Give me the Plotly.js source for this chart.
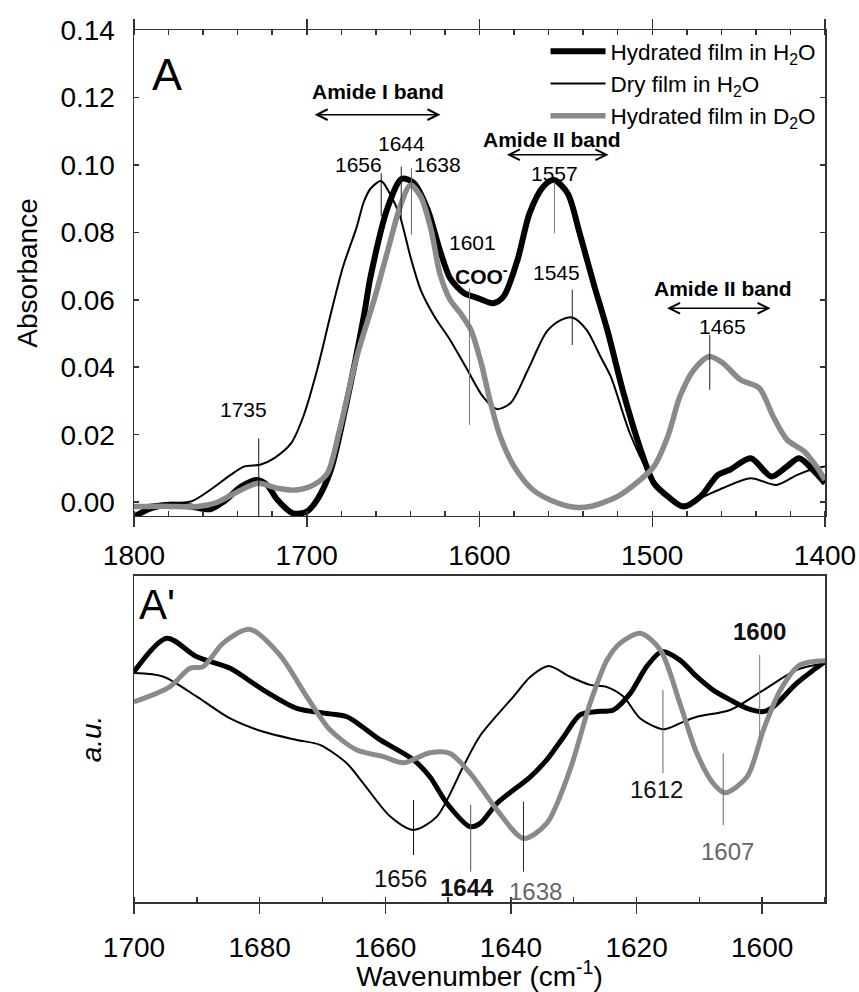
<!DOCTYPE html>
<html>
<head>
<meta charset="utf-8">
<script src="https://cdn.plot.ly/plotly-3.0.1.min.js"></script>
<style>html,body{margin:0;padding:0;background:#fff}#chart{width:859px;height:992px}</style>
</head>
<body>
<div id="chart"></div>
<script>
// ---------- Panel A: absorbance spectra ----------
const seriesNames = ["Hydrated film in H<sub>2</sub>O", "Dry film in H<sub>2</sub>O", "Hydrated film in D<sub>2</sub>O"];

const hydH2O_x = [1800,1790,1779,1767,1756,1748,1738,1729,1723,1717,1708,1700,1694,1686,1677,1667,1663,1653,1645,1638,1630,1623,1617,1609,1601,1592,1586,1578,1571,1563,1557,1549,1542,1534,1526,1517,1507,1499,1491,1482,1472,1462,1455,1443,1431,1422,1415,1407,1400];
const hydH2O_y = [-0.0043,-0.0018,-0.0008,-0.0013,-0.0021,0.0002,0.0046,0.0066,0.0051,0.0007,-0.0033,-0.0028,0.0007,0.0096,0.0293,0.055,0.067,0.0876,0.0959,0.0946,0.0867,0.0748,0.0664,0.062,0.0605,0.059,0.061,0.0718,0.0857,0.0936,0.0955,0.0916,0.0797,0.0649,0.051,0.033,0.016,0.0056,0.0017,-0.0013,0.0017,0.0081,0.0096,0.013,0.0076,0.0106,0.013,0.0096,0.0056];

const dryH2O_x = [1800,1783,1767,1756,1744,1736,1727,1719,1709,1702,1694,1686,1679,1671,1667,1663,1657,1652,1646,1640,1634,1626,1617,1607,1598,1590,1582,1572,1561,1553,1546,1538,1530,1524,1513,1503,1493,1482,1470,1459,1443,1428,1416,1405,1400];
const dryH2O_y = [-0.0013,-0.0003,0.0002,0.0036,0.0081,0.0106,0.0111,0.013,0.0175,0.0254,0.0392,0.056,0.0698,0.0817,0.089,0.093,0.0952,0.0916,0.0847,0.0728,0.0629,0.055,0.0481,0.0392,0.0313,0.0276,0.0294,0.0392,0.0506,0.054,0.0547,0.0511,0.0432,0.0372,0.0205,0.0096,0.0027,-0.0008,0.0017,0.0042,0.0071,0.0051,0.0081,0.0101,0.0106];

const hydD2O_x = [1800,1783,1763,1752,1740,1728,1717,1706,1696,1688,1681,1671,1661,1653,1646,1640,1634,1628,1623,1617,1611,1605,1599,1594,1588,1580,1569,1557,1545,1536,1520,1507,1499,1491,1484,1476,1467,1459,1449,1438,1430,1422,1412,1405,1400];
const hydD2O_y = [-0.0013,-0.0012,-0.0013,-0.0001,0.0031,0.0056,0.0041,0.0036,0.0051,0.0086,0.0214,0.0432,0.06,0.0748,0.0876,0.094,0.0906,0.0807,0.0679,0.06,0.056,0.0511,0.0412,0.0303,0.0195,0.0106,0.0036,0.0002,-0.0015,-0.0013,0.0017,0.0066,0.0106,0.0195,0.0313,0.0392,0.0432,0.0412,0.0363,0.0338,0.0254,0.0185,0.015,0.0106,0.0066];

// ---------- Panel A': second-derivative (a.u.) ----------
const dHydH2O_x = [1700,1694.8,1690,1684.7,1679.4,1674.1,1668.8,1666.1,1660.8,1655.5,1652.9,1650.2,1646.5,1644.9,1642.2,1636.9,1634.3,1631.6,1629,1626.3,1623.7,1621,1618.4,1616,1613.1,1610.4,1607.8,1605.1,1602.4,1599.8,1598.2,1594.5,1591.8,1590];
const dHydH2O_y = [70.6,80.9,75.2,71.7,65,59.4,57.7,56.8,49.7,43.6,38.4,30.3,23.1,24.1,30.3,38.4,43.6,50.7,57.4,58.4,58.9,64,72.2,76.8,74.2,69.1,65,62,59.4,58.4,59.9,67.1,71.2,73.7];

const dDryH2O_x = [1700,1695.3,1690,1684.7,1679.4,1674.1,1670.4,1666.1,1663.5,1659.2,1655.5,1651.8,1647.6,1644.9,1639.6,1636.9,1634,1630.6,1627.4,1624.7,1622.1,1619.4,1615.7,1613.1,1610.4,1605.1,1599.8,1594.5,1590];
const dDryH2O_y = [70.2,69.1,63,56.3,52.2,49.7,48.2,42.5,36.4,26.2,22.1,26.2,41.5,51,63,69.1,72.4,69.1,66.6,65.9,63,56.3,53,54.8,56.8,58.9,65,71.2,73.2];

const dHydD2O_x = [1700,1694.3,1691.1,1689,1685.8,1681.5,1676.8,1672.5,1668.8,1664.5,1660.3,1657.1,1652.9,1649.7,1646.5,1644.9,1642.2,1638,1634.3,1630.6,1627.4,1624.7,1622.6,1619.4,1616.2,1613.1,1610.4,1607.8,1605.9,1602.4,1599.8,1597.1,1594,1590];
const dHydD2O_y = [61.4,66,71.7,72.2,79.4,83.6,75.8,63,52.8,46.6,44.6,42.7,45.8,45.6,39.5,35.4,28.2,19.5,24.1,40.5,60.9,74.2,79.4,82.4,77.3,60.9,45.6,36.4,33.5,38.4,52.8,65,72.7,74];

// Peak markers and labels
const peakA_x = [1656.9, 1645.3, 1639.4, 1605.8, 1556.6, 1546.3, 1466.7];
const peakA_y0 = [0.0975, 0.0995, 0.099, 0.0634, 0.095, 0.063, 0.0496];
const peakA_y1 = [0.0847, 0.0837, 0.0793, 0.0229, 0.0797, 0.0466, 0.0333];
const peakA_col = ["#111", "#222", "#666", "#777", "#777", "#222", "#222"];
const labelsA = [
  {t:"1656", x:1670, y:0.1000}, {t:"1644", x:1645.3, y:0.1062}, {t:"1638", x:1624.3, y:0.1000},
  {t:"1601", x:1604.3, y:0.0770}, {t:"<b>COO<sup>-</sup></b>", x:1598.8, y:0.0674},
  {t:"1557", x:1556.6, y:0.0975}, {t:"1545", x:1555.6, y:0.0680},
  {t:"1465", x:1459.2, y:0.0520}, {t:"1735", x:1736.4, y:0.0274},
  {t:"<b>Amide I band</b>", x:1658.5, y:0.1217}, {t:"<b>Amide II band</b>", x:1558, y:0.1074},
  {t:"<b>Amide II band</b>", x:1458.8, y:0.0634}
];
const bandArrows = [ {x0:1696.3, x1:1622.6, y:0.1149}, {x0:1585, x1:1525.3, y:0.103}, {x0:1492.3, x1:1431.5, y:0.0575} ];

const peakB_x = [1655.5, 1646.4, 1638, 1615.8, 1606.2, 1600.4];
const peakB_y0 = [31.3, 29.8, 30.8, 65, 45.6, 75.8];
const peakB_y1 = [14.4, 9.3, 9.3, 39.5, 23.6, 50.2];
const peakB_col = ["#111", "#555", "#222", "#666", "#666", "#777"];
const labelsB = [
  {t:"1656", x:1657.6, y:7.2, c:"#111"}, {t:"<b>1644</b>", x:1647, y:4.3, c:"#111"},
  {t:"1638", x:1636.1, y:3.2, c:"#666"}, {t:"1612", x:1616.8, y:34.4, c:"#111"},
  {t:"1607", x:1605.6, y:15.4, c:"#666"}, {t:"<b>1600</b>", x:1600.4, y:82.9, c:"#111"}
];

const FONT = "Liberation Sans, Arial, Helvetica, sans-serif";
const BLACK = "#000", GRAY = "#8a8a8a";

const traces = [
  {x:hydH2O_x, y:hydH2O_y, name:seriesNames[0], mode:"lines", line:{color:BLACK, width:6, shape:"spline", smoothing:0.8}, xaxis:"x", yaxis:"y"},
  {x:dryH2O_x, y:dryH2O_y, name:seriesNames[1], mode:"lines", line:{color:BLACK, width:2, shape:"spline", smoothing:0.8}, xaxis:"x", yaxis:"y"},
  {x:hydD2O_x, y:hydD2O_y, name:seriesNames[2], mode:"lines", line:{color:GRAY, width:5.5, shape:"spline", smoothing:0.8}, xaxis:"x", yaxis:"y"},
  {x:dHydH2O_x, y:dHydH2O_y, name:seriesNames[0], showlegend:false, mode:"lines", line:{color:BLACK, width:5, shape:"spline", smoothing:0.8}, xaxis:"x2", yaxis:"y2"},
  {x:dDryH2O_x, y:dDryH2O_y, name:seriesNames[1], showlegend:false, mode:"lines", line:{color:BLACK, width:2, shape:"spline", smoothing:0.8}, xaxis:"x2", yaxis:"y2"},
  {x:dHydD2O_x, y:dHydD2O_y, name:seriesNames[2], showlegend:false, mode:"lines", line:{color:GRAY, width:5, shape:"spline", smoothing:0.8}, xaxis:"x2", yaxis:"y2"}
];

const shapes = [];
peakA_x.forEach((x,i)=>shapes.push({type:"line", xref:"x", yref:"y", x0:x, x1:x, y0:peakA_y0[i], y1:peakA_y1[i], line:{color:peakA_col[i], width:1}}));
// 1735 marker extends below the axis
shapes.push({type:"line", xref:"x", yref:"paper", x0:1727.8, x1:1727.8, y0:0.5318, y1:0.4414, line:{color:"#111", width:1}});
peakB_x.forEach((x,i)=>shapes.push({type:"line", xref:"x2", yref:"y2", x0:x, x1:x, y0:peakB_y0[i], y1:peakB_y1[i], line:{color:peakB_col[i], width:1}}));

const annotations = [];
labelsA.forEach(l=>annotations.push({xref:"x", yref:"y", x:l.x, y:l.y, text:l.t, showarrow:false, xanchor:"center", yanchor:"middle", font:{family:FONT, size:21, color:"#000"}}));
bandArrows.forEach(a=>annotations.push({xref:"x", yref:"y", axref:"x", ayref:"y", x:a.x1, y:a.y, ax:a.x0, ay:a.y, text:"", showarrow:true, arrowside:"end+start", arrowhead:5, startarrowhead:5, arrowsize:1.4, startarrowsize:1.4, arrowwidth:1.5, arrowcolor:"#000", standoff:0, startstandoff:0}));
labelsB.forEach(l=>annotations.push({xref:"x2", yref:"y2", x:l.x, y:l.y, text:l.t, showarrow:false, xanchor:"center", yanchor:"middle", font:{family:FONT, size:24, color:l.c}}));
annotations.push({xref:"paper", yref:"paper", x:0.0478, y:0.9495, xanchor:"center", yanchor:"middle", text:"A", showarrow:false, font:{family:FONT, size:45, color:"#000"}});
annotations.push({xref:"paper", yref:"paper", x:0.0333, y:0.3406, xanchor:"center", yanchor:"middle", text:"A'", showarrow:false, font:{family:FONT, size:42, color:"#000"}});

const axLine = {showline:true, linecolor:"#333", linewidth:1.5, showgrid:false, zeroline:false, tickcolor:"#333", tickwidth:1.5, tickfont:{family:FONT, size:28, color:"#000"}};

const layout = {
  width:859, height:992,
  margin:{l:134, r:34, t:30, b:90},
  paper_bgcolor:"#fff", plot_bgcolor:"#fff",
  font:{family:FONT, color:"#000"},
  showlegend:true,
  legend:{x:0.995, xanchor:"right", y:1.0, yanchor:"top", bgcolor:"rgba(0,0,0,0)", borderwidth:0, font:{family:FONT, size:22.5, color:"#000"}, itemwidth:55, tracegroupgap:0},
  xaxis:Object.assign({}, axLine, {domain:[0,1], anchor:"y", range:[1800,1400], tick0:1400, dtick:100, ticks:"outside", ticklen:10, mirror:"ticks", ticklabelstandoff:4,
    minor:{dtick:20, ticks:"inside", ticklen:5, tickwidth:1.5, tickcolor:"#333", showgrid:false}}),
  yaxis:Object.assign({}, axLine, {domain:[0.4427,1], anchor:"x", range:[-0.0041,0.14], dtick:0.02, tick0:0, tickformat:".2f", ticks:"inside", ticklen:5, mirror:"ticks", ticklabelstandoff:12,
    title:{text:"Absorbance", font:{family:FONT, size:28, color:"#000"}, standoff:14}}),
  xaxis2:Object.assign({}, axLine, {domain:[0,1], anchor:"y2", range:[1700,1590], tick0:1600, dtick:20, ticks:"outside", ticklen:10, mirror:true, ticklabelstandoff:10,
    minor:{dtick:10, ticks:"inside", ticklen:5, tickwidth:1.5, tickcolor:"#333", showgrid:false},
    title:{text:"Wavenumber (cm<sup>-1</sup>)", font:{family:FONT, size:28, color:"#000"}, standoff:0}}),
  yaxis2:Object.assign({}, axLine, {domain:[0,0.3739], anchor:"x2", range:[0,100], showticklabels:false, ticks:"", mirror:true,
    title:{text:"<i>a.u.</i>", font:{family:FONT, size:28, color:"#000"}, standoff:22}}),
  shapes:shapes,
  annotations:annotations
};

Plotly.newPlot("chart", traces, layout, {staticPlot:true, displayModeBar:false});
</script>
</body>
</html>
